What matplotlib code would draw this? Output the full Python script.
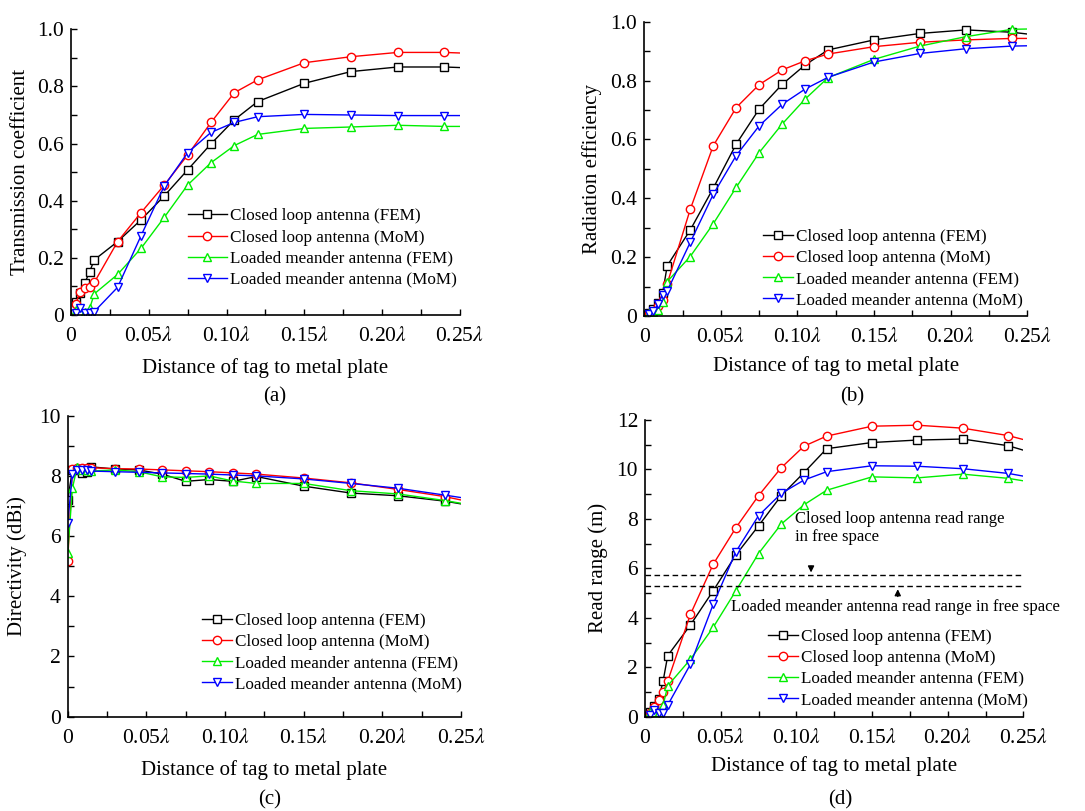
import matplotlib
matplotlib.use("Agg")
import matplotlib.pyplot as plt
from matplotlib.ticker import MultipleLocator

plt.rcParams['font.family'] = ['Liberation Serif', 'DejaVu Serif']
plt.rcParams['mathtext.fontset'] = 'stix'

# distance of tag to metal plate (in wavelengths)
dist = [0.003, 0.006, 0.009, 0.012, 0.015, 0.03, 0.045, 0.06, 0.075, 0.09,
        0.105, 0.12, 0.15, 0.18, 0.21, 0.24, 0.25]
dist_c = [0] + dist

names = ['Closed loop antenna (FEM)', 'Closed loop antenna (MoM)',
         'Loaded meander antenna (FEM)', 'Loaded meander antenna (MoM)']
xtick_vals = [0, 0.05, 0.10, 0.15, 0.20, 0.25]
xtick_text = ['0', '0.05$\\lambda$', '0.10$\\lambda$', '0.15$\\lambda$',
              '0.20$\\lambda$', '0.25$\\lambda$']

# (a) transmission coefficient
tc_loop_fem = [0.047, 0.078, 0.113, 0.152, 0.193, 0.257, 0.333, 0.417, 0.508, 0.599,
               0.683, 0.747, 0.811, 0.852, 0.868, 0.868, 0.866]
tc_loop_mom = [0.039, 0.08, 0.093, 0.099, 0.114, 0.257, 0.358, 0.455, 0.56, 0.674,
               0.778, 0.823, 0.883, 0.904, 0.919, 0.919, 0.917]
tc_mea_fem = [0.018, 0.012, 0.012, 0.023, 0.074, 0.142, 0.233, 0.342, 0.455, 0.533,
              0.593, 0.632, 0.653, 0.658, 0.664, 0.66, 0.66]
tc_mea_mom = [0.006, 0.023, 0.006, 0.006, 0.012, 0.097, 0.277, 0.452, 0.568, 0.639,
              0.674, 0.694, 0.702, 0.70, 0.698, 0.698, 0.698]

# (b) radiation efficiency
re_loop_fem = [0.009, 0.023, 0.043, 0.079, 0.171, 0.292, 0.434, 0.584, 0.703, 0.787,
               0.853, 0.904, 0.938, 0.96, 0.972, 0.964, 0.958]
re_loop_mom = [0.005, 0.015, 0.035, 0.055, 0.11, 0.362, 0.578, 0.708, 0.786, 0.836,
               0.867, 0.89, 0.915, 0.93, 0.938, 0.943, 0.943]
re_mea_fem = [0.009, 0.012, 0.02, 0.049, 0.117, 0.202, 0.313, 0.437, 0.555, 0.652,
              0.737, 0.81, 0.872, 0.917, 0.949, 0.974, 0.975]
re_mea_mom = [0.006, 0.017, 0.041, 0.072, 0.085, 0.25, 0.413, 0.545, 0.646, 0.719,
              0.771, 0.811, 0.863, 0.892, 0.908, 0.917, 0.918]

# (c) directivity (dBi)
dir_loop_fem = [7.2, 8.2, 8.2, 8.1, 8.14, 8.3, 8.23, 8.2, 8.06, 7.82, 7.88, 7.82,
                7.98, 7.66, 7.43, 7.34, 7.16, 7.07]
dir_loop_mom = [5.18, 8.22, 8.25, 8.25, 8.26, 8.27, 8.24, 8.23, 8.2, 8.17, 8.14, 8.1,
                8.06, 7.93, 7.77, 7.55, 7.31, 7.2]
dir_mea_fem = [5.43, 7.59, 8.3, 8.2, 8.2, 8.16, 8.2, 8.14, 7.97, 7.95, 8.0, 7.83,
               7.75, 7.75, 7.51, 7.4, 7.18, 7.09]
dir_mea_mom = [6.42, 8.08, 8.2, 8.2, 8.2, 8.16, 8.14, 8.12, 8.1, 8.08, 8.06, 8.03,
               8.0, 7.9, 7.75, 7.59, 7.36, 7.28]

# (d) read range (m)
rr_loop_fem = [0.2, 0.43, 0.71, 1.46, 2.47, 3.71, 5.09, 6.54, 7.72, 8.94, 9.87, 10.84,
               11.09, 11.19, 11.23, 10.96, 10.78]
rr_loop_mom = [0.13, 0.4, 0.67, 1.01, 1.44, 4.14, 6.16, 7.64, 8.94, 10.07, 10.94, 11.35,
               11.75, 11.79, 11.67, 11.37, 11.21]
rr_mea_fem = [0.17, 0.2, 0.2, 0.47, 1.25, 2.32, 3.61, 5.09, 6.6, 7.79, 8.57, 9.16,
              9.7, 9.66, 9.81, 9.64, 9.54]
rr_mea_mom = [0.07, 0.27, 0.13, 0.16, 0.47, 2.12, 4.54, 6.67, 8.13, 9.03, 9.57, 9.91,
              10.15, 10.13, 10.03, 9.84, 9.73]
free_loop = 5.72
free_mea = 5.27

colors = ['black', 'red', '#00ee00', 'blue']
markers = ['s', 'o', '^', 'v']

fig = plt.figure(figsize=(10.85, 8.11), dpi=100)
ax_a = fig.add_axes([0.0654, 0.6116, 0.3585, 0.3523])
ax_b = fig.add_axes([0.5938, 0.6104, 0.3530, 0.3629])
ax_c = fig.add_axes([0.0624, 0.1163, 0.3625, 0.3711])
ax_d = fig.add_axes([0.5945, 0.1163, 0.3487, 0.3658])


def draw(ax, x, series, ylim, ystep, yticks_text, ylabel, leg_pos, hl, xpad, ypad):
    for s, c, m, n in zip(series, colors, markers, names):
        ax.plot(x, s, color=c, marker=m, ms=6, mfc='white', mec=c, mew=1,
                lw=1, label=n, markevery=slice(0, len(x) - 1))
    ax.set_xlim(0, 0.25)
    ax.set_ylim(*ylim)
    ax.set_xticks(xtick_vals)
    ax.set_xticklabels(xtick_text)
    ax.xaxis.set_minor_locator(MultipleLocator(0.025))
    ax.set_yticks(yticks_text[0])
    ax.set_yticklabels(yticks_text[1])
    ax.yaxis.set_minor_locator(MultipleLocator(ystep / 2))
    ax.spines['top'].set_visible(False)
    ax.spines['right'].set_visible(False)
    for sp in ['left', 'bottom']:
        ax.spines[sp].set_linewidth(1.2)
    ax.tick_params(which='both', direction='in', length=4, width=1)
    ax.tick_params(axis='x', pad=9, labelsize=15.5)
    ax.tick_params(axis='y', pad=5, labelsize=15.5)
    ax.set_xlabel('Distance of tag to metal plate', fontsize=15, labelpad=xpad)
    ax.set_ylabel(ylabel, fontsize=15, labelpad=ypad)
    ax.legend(loc='center left', bbox_to_anchor=leg_pos, frameon=False,
              fontsize=12.3, borderpad=0, borderaxespad=0, handlelength=hl,
              handletextpad=0.2, labelspacing=0.3)


t01 = ([0, 0.2, 0.4, 0.6, 0.8, 1.0], ['0', '0.2', '0.4', '0.6', '0.8', '1.0'])
draw(ax_a, dist, [tc_loop_fem, tc_loop_mom, tc_mea_fem, tc_mea_mom], (0, 1.0), 0.2,
     t01, 'Transmission coefficient', (0.30, 0.234), 2.3, 8.5, 5)
draw(ax_b, dist, [re_loop_fem, re_loop_mom, re_mea_fem, re_mea_mom], (0, 1.0), 0.2,
     t01, 'Radiation efficiency', (0.309, 0.161), 1.75, 6, 6)
draw(ax_c, dist_c, [dir_loop_fem, dir_loop_mom, dir_mea_fem, dir_mea_mom], (0, 10), 2,
     ([0, 2, 4, 6, 8, 10], ['0', '2', '4', '6', '8', '10']),
     'Directivity (dBi)', (0.341, 0.213), 1.75, 8.5, 9)
draw(ax_d, dist, [rr_loop_fem, rr_loop_mom, rr_mea_fem, rr_mea_mom], (0, 12), 2,
     ([0, 2, 4, 6, 8, 10, 12], ['0', '2', '4', '6', '8', '10', '12']),
     'Read range (m)', (0.324, 0.163), 1.75, 6, 6)

# free-space read range reference lines
ax_d.axhline(free_loop, color='black', lw=1, ls=(0, (4, 2.5)))
ax_d.axhline(free_mea, color='black', lw=1, ls=(0, (4, 2.5)))
ax_d.text(0.099, 8.3, 'Closed loop antenna read range\nin free space', fontsize=12,
          va='top', ha='left', linespacing=1.15)
ax_d.annotate('', xy=(0.1097, free_loop), xytext=(0.1097, 6.2),
              arrowprops=dict(arrowstyle='-|>', color='black', lw=1, mutation_scale=9))
ax_d.text(0.0566, 4.42, 'Loaded meander antenna read range in free space', fontsize=12,
          va='center', ha='left')
ax_d.annotate('', xy=(0.167, free_mea), xytext=(0.167, 4.75),
              arrowprops=dict(arrowstyle='-|>', color='black', lw=1, mutation_scale=9))

fig.text(0.2535, 1 - 397 / 811, '(a)', fontsize=15, ha='center', va='center')
fig.text(0.7853, 1 - 397 / 811, '(b)', fontsize=15, ha='center', va='center')
fig.text(0.2488, 1 - 800 / 811, '(c)', fontsize=15, ha='center', va='center')
fig.text(0.7742, 1 - 800 / 811, '(d)', fontsize=15, ha='center', va='center')

fig.savefig('out.png', dpi=100)
